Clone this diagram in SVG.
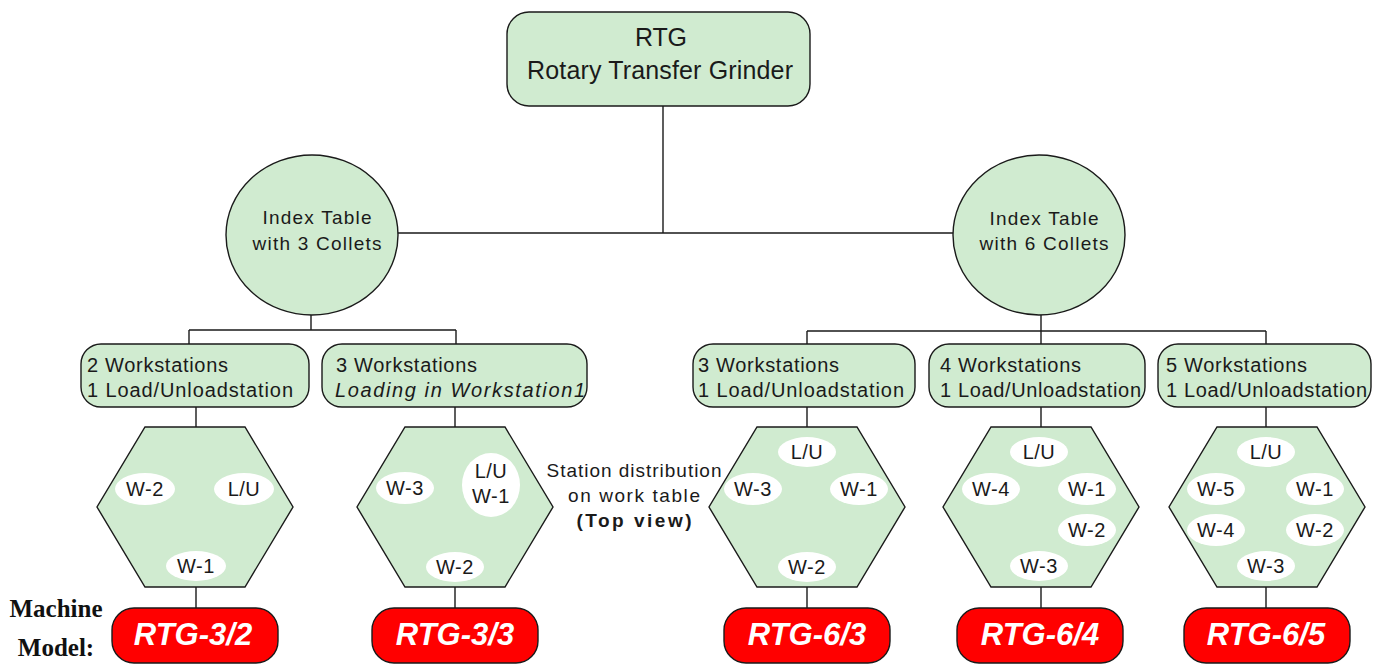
<svg xmlns="http://www.w3.org/2000/svg" width="1383" height="666" viewBox="0 0 1383 666">
<style>
.g{fill:#d0ebd0;stroke:#1a1a1a;stroke-width:1.4}
.r{fill:#ff0000;stroke:#1a1a1a;stroke-width:1.4}
.e{fill:#ffffff;stroke:none}
.t{font-family:"Liberation Sans",Arial,sans-serif;fill:#1a1a1a;font-size:20px}
.big{font-size:25px}
.mid{font-size:19px}
.c{text-anchor:middle}
.m{font-family:"Liberation Sans",Arial,sans-serif;font-size:31px;font-weight:bold;font-style:italic;fill:#ffffff;text-anchor:middle}
.s{font-family:"Liberation Serif","Times New Roman",serif;font-size:25px;font-weight:bold;fill:#111;text-anchor:middle}
.w{font-family:"Liberation Sans",Arial,sans-serif;fill:#1a1a1a;font-size:20px;text-anchor:middle;letter-spacing:0.5px}
</style>
<rect width="1383" height="666" fill="#ffffff"/>
<g id="connectors" fill="none" stroke="#1a1a1a" stroke-width="1.4">
<path d="M663 106V233M398 233H953"/>
<path d="M311 315V330M189 330H456M189 330V344M456 330V344"/>
<path d="M1041 315V331M807 331H1266M807 331V344M1041 331V344M1266 331V344"/>
<path d="M196 407V427M455 407V427M807 407V427M1041 407V427M1266 407V427"/>
<path d="M196 587V608M455 587V608M807 587V608M1041 587V608M1266 587V608"/>
</g>
<g id="root">
<rect class="g" x="507" y="12" width="303" height="94" rx="22"/>
<text class="t big c" x="661" y="46" textLength="52">RTG</text>
<text class="t big c" x="660" y="79" textLength="266">Rotary Transfer Grinder</text>
</g>
<g id="table3">
<ellipse class="g" cx="312" cy="235" rx="86" ry="80"/>
<text class="t mid c" x="317" y="224" textLength="109">Index Table</text>
<text class="t mid c" x="317" y="250" textLength="129">with 3 Collets</text>
</g>
<g id="table6">
<ellipse class="g" cx="1039" cy="235" rx="86" ry="80"/>
<text class="t mid c" x="1044" y="225" textLength="109">Index Table</text>
<text class="t mid c" x="1044" y="250" textLength="129">with 6 Collets</text>
</g>
<g id="cfg32">
<rect class="g" x="81" y="344" width="228" height="63" rx="20"/>
<text class="t" x="87" y="372" textLength="141">2 Workstations</text>
<text class="t" x="87" y="397" textLength="206">1 Load/Unloadstation</text>
</g>
<g id="cfg33">
<rect class="g" x="322" y="344" width="265" height="63" rx="20"/>
<text class="t" x="336" y="372" textLength="141">3 Workstations</text>
<text class="t" x="335" y="397" font-style="italic" textLength="250">Loading in Workstation1</text>
</g>
<g id="cfg63">
<rect class="g" x="693" y="344" width="222" height="63" rx="20"/>
<text class="t" x="698" y="372" textLength="141">3 Workstations</text>
<text class="t" x="698" y="397" textLength="206">1 Load/Unloadstation</text>
</g>
<g id="cfg64">
<rect class="g" x="929" y="344" width="216" height="63" rx="20"/>
<text class="t" x="940" y="372" textLength="141">4 Workstations</text>
<text class="t" x="940" y="397" textLength="201">1 Load/Unloadstation</text>
</g>
<g id="cfg65">
<rect class="g" x="1158" y="344" width="213" height="63" rx="20"/>
<text class="t" x="1166" y="372" textLength="141">5 Workstations</text>
<text class="t" x="1166" y="397" textLength="201">1 Load/Unloadstation</text>
</g>
<g id="hex32">
<polygon class="g" points="145,427 245,427 293,507 245,587 145,587 97,507"/>
<ellipse class="e" cx="145" cy="489" rx="30" ry="16"/>
<ellipse class="e" cx="244" cy="489" rx="30" ry="16"/>
<ellipse class="e" cx="196" cy="566" rx="30" ry="15"/>
<text class="w" x="145" y="496">W-2</text>
<text class="w" x="244" y="496">L/U</text>
<text class="w" x="196" y="573">W-1</text>
</g>
<g id="hex33">
<polygon class="g" points="405,427 505,427 553,507 505,587 405,587 357,507"/>
<ellipse class="e" cx="405" cy="488" rx="29" ry="16"/>
<ellipse class="e" cx="491" cy="485" rx="29" ry="32"/>
<ellipse class="e" cx="455" cy="567" rx="29" ry="15"/>
<text class="w" x="405" y="495">W-3</text>
<text class="w" x="491" y="478">L/U</text>
<text class="w" x="491" y="503">W-1</text>
<text class="w" x="455" y="574">W-2</text>
</g>
<g id="note">
<text class="t mid c" x="634" y="477" textLength="175">Station distribution</text>
<text class="t mid c" x="634" y="502" textLength="132">on work table</text>
<text class="t mid c" x="634" y="527" font-weight="bold" textLength="115">(Top view)</text>
</g>
<g id="hex63">
<polygon class="g" points="757,427 857,427 905,507 857,587 757,587 709,507"/>
<ellipse class="e" cx="807" cy="452" rx="29" ry="15"/>
<ellipse class="e" cx="753" cy="489" rx="29" ry="16"/>
<ellipse class="e" cx="859" cy="489" rx="29" ry="16"/>
<ellipse class="e" cx="807" cy="567" rx="29" ry="15"/>
<text class="w" x="807" y="459">L/U</text>
<text class="w" x="753" y="496">W-3</text>
<text class="w" x="859" y="496">W-1</text>
<text class="w" x="807" y="574">W-2</text>
</g>
<g id="hex64">
<polygon class="g" points="991,427 1091,427 1139,507 1091,587 991,587 943,507"/>
<ellipse class="e" cx="1039" cy="452" rx="29" ry="15"/>
<ellipse class="e" cx="991" cy="489" rx="29" ry="16"/>
<ellipse class="e" cx="1087" cy="489" rx="29" ry="16"/>
<ellipse class="e" cx="1087" cy="530" rx="29" ry="16"/>
<ellipse class="e" cx="1039" cy="566" rx="29" ry="15"/>
<text class="w" x="1039" y="459">L/U</text>
<text class="w" x="991" y="496">W-4</text>
<text class="w" x="1087" y="496">W-1</text>
<text class="w" x="1087" y="537">W-2</text>
<text class="w" x="1039" y="573">W-3</text>
</g>
<g id="hex65">
<polygon class="g" points="1217,427 1317,427 1365,507 1317,587 1217,587 1169,507"/>
<ellipse class="e" cx="1266" cy="452" rx="29" ry="15"/>
<ellipse class="e" cx="1216" cy="489" rx="29" ry="16"/>
<ellipse class="e" cx="1315" cy="489" rx="29" ry="16"/>
<ellipse class="e" cx="1216" cy="530" rx="29" ry="16"/>
<ellipse class="e" cx="1315" cy="530" rx="29" ry="16"/>
<ellipse class="e" cx="1266" cy="566" rx="29" ry="15"/>
<text class="w" x="1266" y="459">L/U</text>
<text class="w" x="1216" y="496">W-5</text>
<text class="w" x="1315" y="496">W-1</text>
<text class="w" x="1216" y="537">W-4</text>
<text class="w" x="1315" y="537">W-2</text>
<text class="w" x="1266" y="573">W-3</text>
</g>
<g id="label">
<text class="s" x="56" y="617">Machine</text>
<text class="s" x="56" y="656">Model:</text>
</g>
<g id="m32"><rect class="r" x="112" y="608" width="166" height="55" rx="22"/><text class="m" x="193" y="645">RTG-3/2</text></g>
<g id="m33"><rect class="r" x="372" y="608" width="166" height="55" rx="22"/><text class="m" x="455" y="645">RTG-3/3</text></g>
<g id="m63"><rect class="r" x="724" y="608" width="166" height="55" rx="22"/><text class="m" x="807" y="645">RTG-6/3</text></g>
<g id="m64"><rect class="r" x="957" y="608" width="166" height="55" rx="22"/><text class="m" x="1040" y="645">RTG-6/4</text></g>
<g id="m65"><rect class="r" x="1184" y="608" width="166" height="55" rx="22"/><text class="m" x="1266" y="645">RTG-6/5</text></g>
</svg>
